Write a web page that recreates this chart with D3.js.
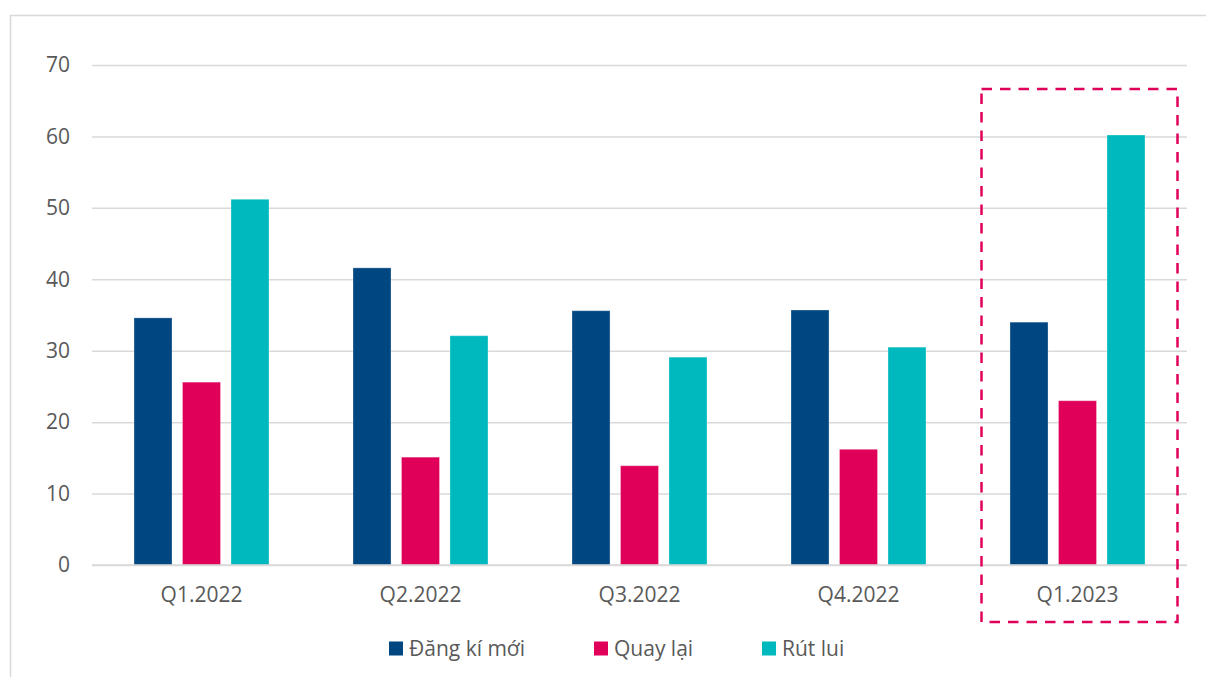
<!DOCTYPE html>
<html>
<head>
<meta charset="utf-8">
<script src="https://cdn.jsdelivr.net/npm/d3@7"></script>
<style>
  body { margin: 0; background: #fff; }
  text { font-family: "Open Sans", sans-serif; fill: #595959; }
</style>
</head>
<body>
<div id="chart"></div>
<script>
// quarters and series
const quarters = ['Q1.2022', 'Q2.2022', 'Q3.2022', 'Q4.2022', 'Q1.2023']
const seriesNames = ['Đăng kí mới', 'Quay lại', 'Rút lui']
const dangKiMoi = [34.6, 41.6, 35.6, 35.7, 34.0]
const quayLai = [25.6, 15.1, 13.9, 16.2, 23.0]
const rutLui = [51.2, 32.1, 29.1, 30.5, 60.2]
const yTicks = [0, 10, 20, 30, 40, 50, 60, 70]
const highlight = 'Q1.2023'

const colors = ['#004681', '#e0005a', '#00b9be']

const width = 1206
const height = 677
const margin = { top: 65, right: 19, bottom: 112, left: 92 }
const fontSize = 21

const svg = d3.select('#chart')
  .append('svg')
  .attr('width', width)
  .attr('height', height)

// outer frame
svg.append('path')
  .attr('d', `M10.5,${height}V15.5H${width}`)
  .attr('fill', 'none')
  .attr('stroke', '#d9d9d9')
  .attr('stroke-width', 1.5)

const x = d3.scaleBand()
  .domain(quarters)
  .range([margin.left, width - margin.right])

const x1 = d3.scaleBand()
  .domain(seriesNames)
  .range([0, x.bandwidth()])
  .paddingInner(0.216)
  .paddingOuter(0.866)

const y = d3.scaleLinear()
  .domain([0, 70])
  .range([height - margin.bottom, margin.top])

// gridlines + y labels
const yAxis = d3.axisLeft(y)
  .tickValues(yTicks)
  .tickSize(-(width - margin.left - margin.right))
  .tickPadding(22)

const gy = svg.append('g')
  .attr('transform', `translate(${margin.left},0)`)
  .call(yAxis)
gy.select('.domain').remove()
gy.selectAll('line').attr('stroke', '#d9d9d9').attr('stroke-width', 1.5)
gy.selectAll('text').attr('font-size', fontSize).attr('fill', '#595959')

// x labels
const gx = svg.append('g')
  .attr('transform', `translate(0,${height - margin.bottom})`)
  .call(d3.axisBottom(x).tickSize(0).tickPadding(22.5))
gx.select('.domain').remove()
gx.selectAll('text').attr('font-size', fontSize).attr('fill', '#595959')

// bars
const rows = quarters.map((q, i) => ({
  q: q,
  vals: [dangKiMoi[i], quayLai[i], rutLui[i]]
}))

const groups = svg.append('g').selectAll('g')
  .data(rows)
  .join('g')
  .attr('transform', d => `translate(${x(d.q)},0)`)

groups.selectAll('rect')
  .data(d => d.vals.map((v, j) => ({ name: seriesNames[j], v: v, c: colors[j] })))
  .join('rect')
  .attr('x', d => x1(d.name))
  .attr('width', x1.bandwidth())
  .attr('y', d => y(d.v))
  .attr('height', d => y(0) - y(d.v))
  .attr('fill', d => d.c)
  .attr('stroke', 'rgba(255,255,255,0.3)')
  .attr('stroke-width', 1)

// redraw baseline on top
svg.append('line')
  .attr('x1', margin.left)
  .attr('x2', width - margin.right)
  .attr('y1', y(0))
  .attr('y2', y(0))
  .attr('stroke', '#d9d9d9')
  .attr('stroke-width', 1.5)

// dashed highlight box around last quarter
svg.append('rect')
  .attr('x', x(highlight) + 13.5)
  .attr('y', 89)
  .attr('width', x.bandwidth() - 23)
  .attr('height', 533)
  .attr('fill', 'none')
  .attr('stroke', '#e0005a')
  .attr('stroke-width', 2.5)
  .attr('stroke-dasharray', '10.5,8')

// legend
const legendX = [389, 594, 762]
const legend = svg.append('g')
  .attr('transform', 'translate(0,648.5)')
const item = legend.selectAll('g')
  .data(seriesNames)
  .join('g')
  .attr('transform', (d, i) => `translate(${legendX[i]},0)`)
item.append('rect')
  .attr('x', 0)
  .attr('y', -7)
  .attr('width', 14)
  .attr('height', 14)
  .attr('fill', (d, i) => colors[i])
item.append('text')
  .attr('x', 20)
  .attr('dy', '0.35em')
  .attr('font-size', fontSize)
  .text(d => d)
</script>
</body>
</html>
